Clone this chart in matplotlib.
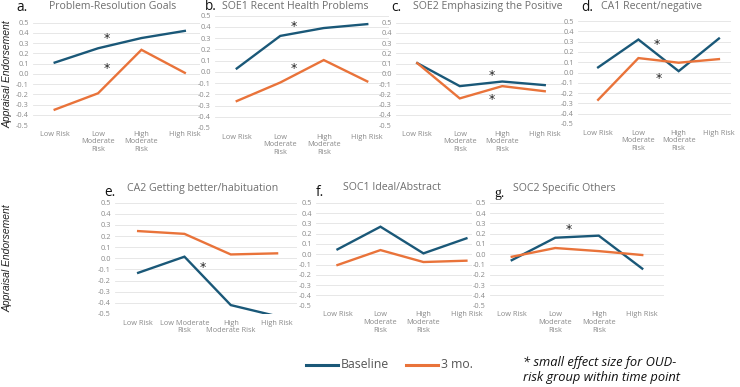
import matplotlib
matplotlib.use("Agg")
import matplotlib.pyplot as plt

# categories
groups = ["Low Risk", "Low\nModerate\nRisk", "High\nModerate\nRisk", "High Risk"]
groups_e = ["Low Risk", "Low Moderate\nRisk", "High\nModerate Risk", "High Risk"]
yticks = [0.5, 0.4, 0.3, 0.2, 0.1, 0.0, -0.1, -0.2, -0.3, -0.4, -0.5]

titles = ["Problem-Resolution Goals", "SOE1 Recent Health Problems", "SOE2 Emphasizing the Positive",
          "CA1 Recent/negative", "CA2 Getting better/habituation", "SOC1 Ideal/Abstract",
          "SOC2 Specific Others"]
letters = ["a.", "b.", "c.", "d.", "e.", "f.", "g."]

# series values
baseline_a = [0.11, 0.25, 0.35, 0.42]
three_a = [-0.35, -0.19, 0.235, 0.01]
baseline_b = [0.03, 0.32, 0.39, 0.425]
three_b = [-0.26, -0.095, 0.105, -0.085]
baseline_c = [0.105, -0.12, -0.075, -0.11]
three_c = [0.105, -0.24, -0.12, -0.17]
baseline_d = [0.05, 0.32, 0.013, 0.33]
three_d = [-0.265, 0.14, 0.095, 0.13]
baseline_e = [-0.13, 0.015, -0.42, -0.52]
three_e = [0.245, 0.22, 0.035, 0.045]
baseline_f = [0.047, 0.267, 0.008, 0.154]
three_f = [-0.105, 0.04, -0.076, -0.063]
baseline_g = [-0.058, 0.16, 0.18, -0.14]
three_g = [-0.025, 0.06, 0.03, -0.008]

# significance stars (x in category units, y in endorsement units)
stars_a = [(1.2, 0.35), (1.2, 0.05)]
stars_b = [(1.3, 0.40), (1.3, 0.03)]
stars_c = [(1.75, -0.02), (1.75, -0.25)]
stars_d = [(1.45, 0.27), (1.5, -0.06)]
stars_e = [(1.4, -0.08)]
stars_f = []
stars_g = [(1.3, 0.24)]

BLUE = "#1a5878"
ORANGE = "#e9733a"
W, H = 740, 387

plt.rcParams["font.family"] = ["Open Sans", "DejaVu Sans"]

fig = plt.figure(figsize=(W / 100, H / 100), dpi=100)
fig.patch.set_facecolor("white")


def fx(x):
    return x / W


def fy(y):
    return 1 - y / H


def panel(box, base, three, stars, labels, title, letter, letter_pos, title_pos,
          letter_font="Open Sans", ylabel=False):
    left, right, top, bottom, lo, hi = box
    ax = fig.add_axes([fx(left), fy(bottom), (right - left) / W, (bottom - top) / H])
    xs = range(len(labels))
    ax.plot(xs, base, color=BLUE, lw=1.7, solid_joinstyle="miter")
    ax.plot(xs, three, color=ORANGE, lw=1.7, solid_joinstyle="miter")
    for sx, sy in stars:
        ax.text(sx, sy, "*", ha="center", va="center", fontsize=9, color="#222222",
                family="DejaVu Sans")
    ax.set_xlim(lo, hi)
    ax.set_ylim(-0.5, 0.5)
    ax.set_yticks(yticks)
    ax.set_yticklabels([f"{v:.1f}" for v in yticks])
    ax.set_xticks(list(xs))
    ax.set_xticklabels(labels, linespacing=1.15)
    ax.tick_params(length=0, labelsize=5.3, labelcolor="#8a8a8a", pad=3)
    ax.tick_params(axis="x", pad=4)
    ax.grid(axis="y", color="#e3e3e3", lw=0.6)
    ax.set_axisbelow(True)
    for s in ax.spines.values():
        s.set_visible(False)
    ax.patch.set_alpha(0)
    fig.text(fx(title_pos[0]), fy(title_pos[1]), title, ha="left", va="center",
             fontsize=7.6, color="#6e6e6e")
    fig.text(fx(letter_pos[0]), fy(letter_pos[1]), letter, ha="left", va="center",
             fontsize=9.8, color="#111111", family=letter_font)
    if ylabel:
        fig.text(fx(8), fy((top + bottom) / 2), "Appraisal Endorsement", rotation=90,
                 ha="center", va="center", fontsize=7.5, style="italic",
                 color="#222222", family="Liberation Sans")
    return ax


panel((33, 200, 22.7, 125, -0.5, 3.35), baseline_a, three_a, stars_a, groups,
      titles[0], letters[0], (16, 7.5), (49, 6.5), ylabel=True)
panel((215, 389, 15.7, 128, -0.5, 3.5), baseline_b, three_b, stars_b, groups,
      titles[1], letters[1], (205, 7), (222, 6.5))
panel((396, 566, 22.7, 125, -0.5, 3.5), baseline_c, three_c, stars_c, groups,
      titles[2], letters[2], (391, 7.5), (413, 6.5))
panel((578, 731, 21, 124, -0.5, 3.3), baseline_d, three_d, stars_d, groups,
      titles[3], letters[3], (581, 7.5), (601, 6.5))
panel((115, 297, 202.7, 314, -0.5, 3.43), baseline_e, three_e, stars_e, groups_e,
      titles[4], letters[4], (104, 192), (127, 189), ylabel=True)
panel((316, 472, 202.7, 305.7, -0.5, 3.13), baseline_f, three_f, stars_f, groups,
      titles[5], letters[5], (316, 192), (343, 188))
panel((490, 664, 202.7, 305.7, -0.5, 3.5), baseline_g, three_g, stars_g, groups,
      titles[6], letters[6], (494, 193), (513, 188), letter_font="Liberation Serif")

# legend
fig.add_artist(plt.Line2D([fx(306), fx(338)], [fy(365), fy(365)], color=BLUE, lw=2.2))
fig.text(fx(341), fy(365), "Baseline", ha="left", va="center", fontsize=8.8, color="#555555")
fig.add_artist(plt.Line2D([fx(406), fx(438)], [fy(365), fy(365)], color=ORANGE, lw=2.2))
fig.text(fx(441), fy(365), "3 mo.", ha="left", va="center", fontsize=8.8, color="#555555")

fig.text(fx(523), fy(370), "* small effect size for OUD-\nrisk group within time point",
         ha="left", va="center", fontsize=9.3, style="italic", color="#111111",
         linespacing=1.22)

fig.savefig("out.png", dpi=100, facecolor="white")
